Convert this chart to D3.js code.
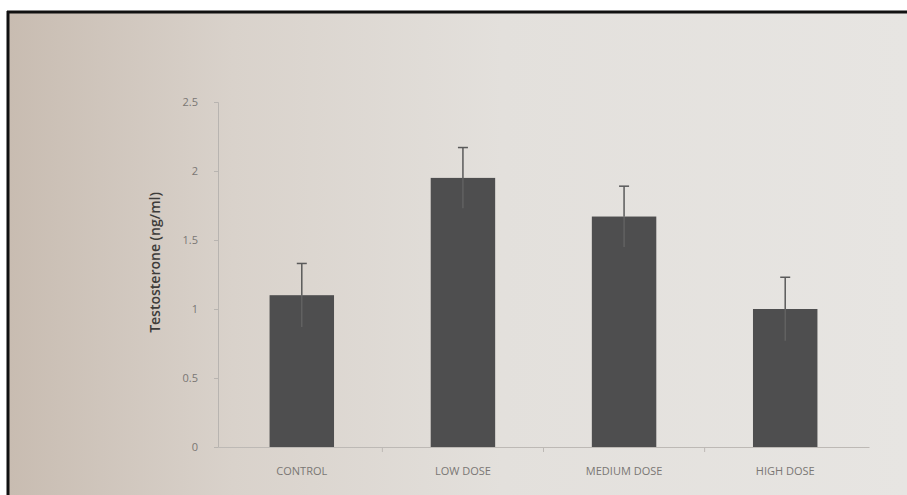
<!DOCTYPE html>
<html>
<head>
<meta charset="utf-8">
<script src="https://cdn.jsdelivr.net/npm/d3@7"></script>
<style>
  html, body { margin: 0; padding: 0; background: #fff; }
  svg { display: block; }
</style>
</head>
<body>
<div id="chart"></div>
<script>
var categories = ["CONTROL", "LOW DOSE", "MEDIUM DOSE", "HIGH DOSE"];
var means = [1.1, 1.95, 1.67, 1.0];
var errors = [0.23, 0.22, 0.22, 0.23];
var yTicks = [0, 0.5, 1, 1.5, 2, 2.5];
var yTitle = "Testosterone (ng/ml)";

var width = 907, height = 495;
var margin = { top: 102, right: 38, bottom: 48, left: 218 };

var svg = d3.select("#chart").append("svg")
  .attr("width", width)
  .attr("height", height);

// photo-ish paper background
var defs = svg.append("defs");
var grad = defs.append("linearGradient").attr("id", "paper")
  .attr("x1", "0%").attr("y1", "0%").attr("x2", "100%").attr("y2", "0%");
grad.append("stop").attr("offset", "0%").attr("stop-color", "#c8bcb1");
grad.append("stop").attr("offset", "25%").attr("stop-color", "#d9d2cb");
grad.append("stop").attr("offset", "55%").attr("stop-color", "#e3e0dc");
grad.append("stop").attr("offset", "100%").attr("stop-color", "#e7e5e2");

svg.append("rect")
  .attr("x", 8).attr("y", 12)
  .attr("width", width - 8).attr("height", height - 12)
  .attr("fill", "url(#paper)");

// frame lines (top and left)
svg.append("line")
  .attr("x1", 7).attr("x2", width).attr("y1", 12).attr("y2", 12)
  .attr("stroke", "#111").attr("stroke-width", 3);
svg.append("line")
  .attr("x1", 8).attr("x2", 8).attr("y1", 11).attr("y2", height)
  .attr("stroke", "#111").attr("stroke-width", 3);

var x = d3.scaleBand()
  .domain(categories)
  .range([margin.left, width - margin.right])
  .paddingInner(0.6)
  .paddingOuter(0.32);

var y = d3.scaleLinear()
  .domain([0, 2.5])
  .range([height - margin.bottom, margin.top]);

var g = svg.append("g");

// y axis
var yAxis = g.append("g")
  .attr("transform", "translate(" + margin.left + ",0)")
  .call(d3.axisLeft(y).tickValues(yTicks).tickSize(4).tickPadding(16)
    .tickFormat(function(d) { return d3.format("")(d); }));
yAxis.select(".domain").attr("stroke", "#b8b4b0");
yAxis.selectAll(".tick line").attr("stroke", "#b8b4b0");
yAxis.selectAll(".tick text")
  .attr("fill", "#7a7774")
  .attr("font-family", "'Open Sans', sans-serif")
  .attr("font-size", 11);

// x axis
var xAxis = g.append("g")
  .attr("transform", "translate(0," + y(0) + ")")
  .call(d3.axisBottom(x).tickSize(0).tickPadding(20));
xAxis.select(".domain").attr("stroke", "#bdb9b5");
xAxis.selectAll(".tick text")
  .attr("fill", "#7a7774")
  .attr("font-family", "'Open Sans', sans-serif")
  .attr("font-size", 11);

// category separators below the x axis
var step = x.step();
g.selectAll(".sep")
  .data(categories.slice(1))
  .enter().append("line")
  .attr("x1", function(d) { return x(d) - step * x.paddingInner() / 2; })
  .attr("x2", function(d) { return x(d) - step * x.paddingInner() / 2; })
  .attr("y1", y(0)).attr("y2", y(0) + 5)
  .attr("stroke", "#bdb9b5");

// bars
g.selectAll(".bar")
  .data(means)
  .enter().append("rect")
  .attr("class", "bar")
  .attr("x", function(d, i) { return x(categories[i]); })
  .attr("width", x.bandwidth())
  .attr("y", function(d) { return y(d); })
  .attr("height", function(d) { return y(0) - y(d); })
  .attr("fill", "#4e4e4f");

// error bars
var err = g.selectAll(".err")
  .data(means)
  .enter().append("g")
  .attr("class", "err")
  .attr("transform", function(d, i) {
    return "translate(" + (x(categories[i]) + x.bandwidth() / 2) + ",0)";
  });
err.append("line")
  .attr("y1", function(d) { return y(d); })
  .attr("y2", function(d, i) { return y(d + errors[i]); })
  .attr("stroke", "#5a5a5a").attr("stroke-width", 1.5);
err.append("line")
  .attr("y1", function(d, i) { return y(d - errors[i]); })
  .attr("y2", function(d) { return y(d); })
  .attr("stroke", "#666").attr("stroke-width", 1.2);
err.append("line")
  .attr("x1", -5).attr("x2", 5)
  .attr("y1", function(d, i) { return y(d + errors[i]); })
  .attr("y2", function(d, i) { return y(d + errors[i]); })
  .attr("stroke", "#5a5a5a").attr("stroke-width", 1.5);

// y title
svg.append("text")
  .attr("transform", "translate(160," + (margin.top + (y(0) - margin.top) / 2 - 12) + ") rotate(-90)")
  .attr("text-anchor", "middle")
  .attr("font-family", "'Open Sans', sans-serif")
  .attr("font-size", 14)
  .attr("font-weight", 600)
  .attr("fill", "#3e3c3a")
  .text(yTitle);
</script>
</body>
</html>
